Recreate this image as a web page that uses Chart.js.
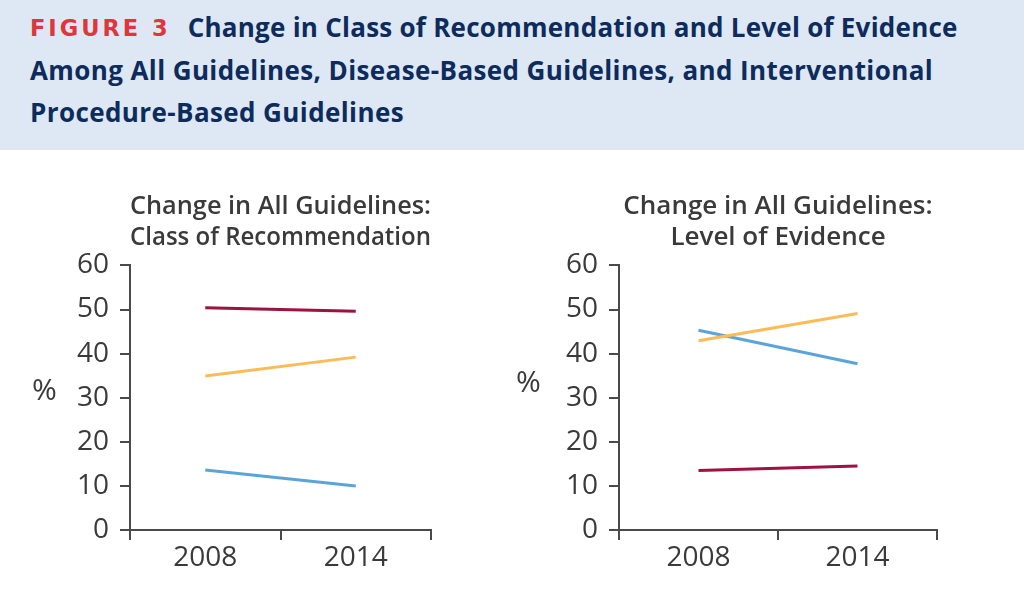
<!DOCTYPE html>
<html>
<head>
<meta charset="utf-8">
<script src="https://cdn.jsdelivr.net/npm/chart.js@4.4.1/dist/chart.umd.min.js"></script>
<style>
  html, body { margin: 0; padding: 0; background: #ffffff; }
  body { width: 1024px; height: 598px; position: relative; overflow: hidden; font-family: "Open Sans", sans-serif; }
  #header { position: absolute; left: 0; top: 0; width: 1024px; height: 150px; background: #dde8f4; }
  #header .line { position: absolute; left: 30px; white-space: nowrap; font-family: "Open Sans", sans-serif; font-weight: 700; font-size: 26px; color: #0d2b5c; letter-spacing: 0.4px; }
  #header .line1 { letter-spacing: 0.25px; }
  #header .fig { color: #e0353c; letter-spacing: 3px; font-family: "DejaVu Sans", sans-serif; font-weight: 700; font-size: 22.5px; margin-right: 17px; vertical-align: 1px; }
  .pct { position: absolute; font-family: "Open Sans", sans-serif; font-size: 30px; color: #3a3a3a; }
  .wrap { position: absolute; top: 150px; width: 470px; height: 448px; }
</style>
</head>
<body>
<div id="header">
  <div class="line line1" style="top:9px;"><span class="fig">FIGURE 3</span>Change in Class of Recommendation and Level of Evidence</div>
  <div class="line" style="top:52px;">Among All Guidelines, Disease-Based Guidelines, and Interventional</div>
  <div class="line" style="top:94px;">Procedure-Based Guidelines</div>
</div>
<div class="wrap" style="left:0px;"><canvas id="c1" width="470" height="448"></canvas></div>
<div class="wrap" style="left:490px;"><canvas id="c2" width="470" height="448"></canvas></div>
<div class="pct" style="left:32px; top:368px;">%</div>
<div class="pct" style="left:516px; top:360px;">%</div>
<script>
const years = ['2008', '2014'];
const yTicks = [0, 10, 20, 30, 40, 50, 60];

// Change in All Guidelines: Class of Recommendation
const corClassI = [50.4, 49.6];
const corClassII = [34.9, 39.2];
const corClassIII = [13.6, 10.0];

// Change in All Guidelines: Level of Evidence
const loeA = [13.5, 14.5];
const loeB = [42.9, 49.1];
const loeC = [45.3, 37.7];

const RED = '#9c1240';
const YELLOW = '#fdbb58';
const BLUE = '#5ba4da';
const AXIS = '#4a4a4a';
const TXT = '#3a3a3a';

function makeChart(id, titleLines, datasets, yWidth, padRight) {
  return new Chart(document.getElementById(id), {
    type: 'line',
    data: {
      labels: years,
      datasets: datasets.map(d => ({
        label: d.label,
        data: d.data,
        borderColor: d.color,
        backgroundColor: d.color,
        borderWidth: 3,
        pointRadius: 0,
        pointHoverRadius: 0,
        tension: 0,
        fill: false
      }))
    },
    options: {
      responsive: false,
      animation: false,
      events: [],
      layout: { padding: { left: 0, right: padRight, top: 0, bottom: 0 } },
      plugins: {
        legend: { display: false },
        tooltip: { enabled: false },
        title: {
          display: true,
          fullSize: false,
          text: titleLines,
          color: TXT,
          font: { family: 'Open Sans', size: 26, weight: '600', lineHeight: 1.2 },
          padding: { top: 41, bottom: 12 }
        }
      },
      scales: {
        x: {
          type: 'category',
          offset: true,
          grid: { display: true, offset: true, drawOnChartArea: false, drawTicks: true, tickLength: 10, color: AXIS, lineWidth: 2 },
          border: { display: true, color: AXIS, width: 2 },
          ticks: { color: TXT, font: { family: 'Open Sans', size: 28 }, padding: 1, maxRotation: 0 },
          afterFit: s => { s.height = 68; }
        },
        y: {
          min: 0, max: 60,
          afterBuildTicks: s => { s.ticks = yTicks.map(v => ({ value: v })); },
          grid: { display: true, drawOnChartArea: false, drawTicks: true, tickLength: 10, color: AXIS, lineWidth: 2 },
          border: { display: true, color: AXIS, width: 2 },
          ticks: { color: TXT, font: { family: 'Open Sans', size: 28 }, padding: 11 },
          afterFit: s => { s.width = yWidth; }
        }
      }
    }
  });
}

makeChart('c1', ['Change in All Guidelines:', 'Class of Recommendation'], [
  { label: 'Class I', data: corClassI, color: RED },
  { label: 'Class II', data: corClassII, color: YELLOW },
  { label: 'Class III', data: corClassIII, color: BLUE }
], 130, 39);

makeChart('c2', ['Change in All Guidelines:', 'Level of Evidence'], [
  { label: 'LOE A', data: loeA, color: RED },
  { label: 'LOE B', data: loeB, color: YELLOW },
  { label: 'LOE C', data: loeC, color: BLUE }
], 129, 23);
</script>
</body>
</html>
